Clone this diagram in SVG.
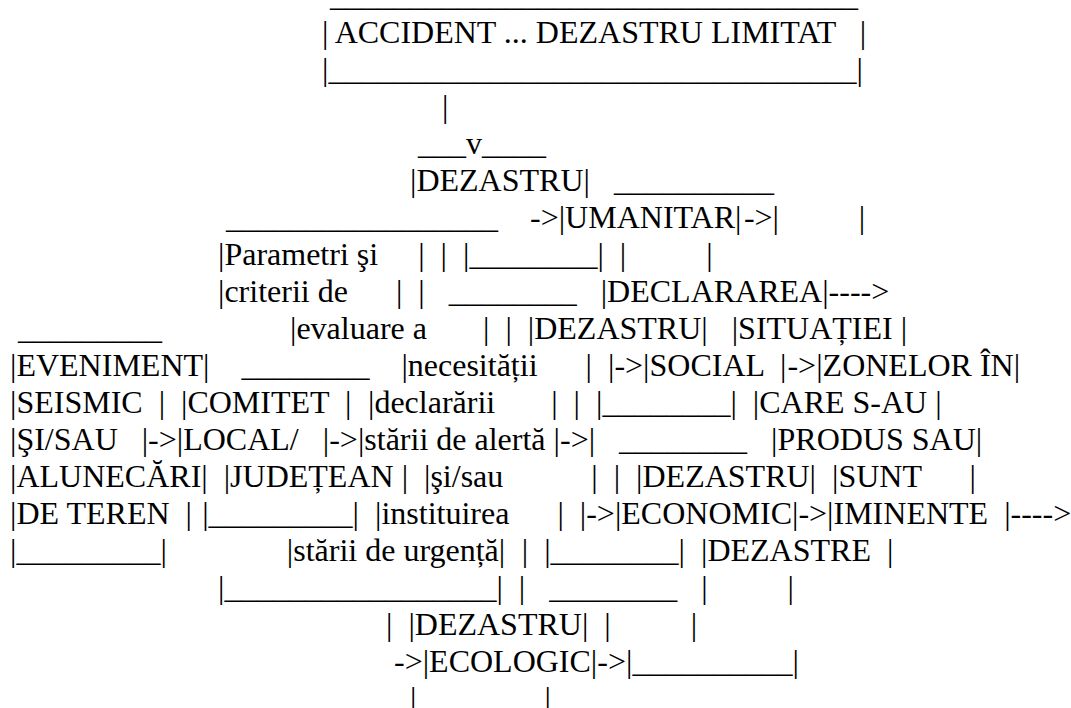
<svg xmlns="http://www.w3.org/2000/svg" width="1071" height="708" viewBox="0 0 1071 708" xml:space="preserve">
<style>
text{font-family:"Liberation Serif","Times New Roman",serif;font-size:32px;fill:#000;white-space:pre}
</style>
<rect width="1071" height="708" fill="#fff"/>
<g id="node-accident">
<text x="330" y="6.3">_________________________________</text>
<text x="322" y="43.3">| ACCIDENT ... DEZASTRU LIMITAT   |</text>
<text x="322" y="80.3">|_________________________________|</text>
</g>
<g id="node-dezastru">
<text x="418" y="154.3">___v____</text>
<text x="410" y="191.3">|DEZASTRU|</text>
</g>
<g id="node-umanitar">
<text x="614" y="191.3">__________</text>
<text x="558.7" y="228.3">|UMANITAR|</text>
<text x="463" y="265.3">|________|</text>
</g>
<g id="node-parametri">
<text x="226" y="228.3">_________________</text>
<text x="218" y="265.3">|Parametri şi</text>
<text x="418.2" y="265.3">|</text>
<text x="218" y="302.3">|criterii de</text>
<text x="395.9" y="302.3">|</text>
<text x="290" y="339.3">|evaluare a</text>
<text x="483" y="339.3">|</text>
<text x="401.4" y="376.3">|necesității</text>
<text x="585.6" y="376.3">|</text>
<text x="368" y="413.3">|declarării</text>
<text x="551.2" y="413.3">|</text>
<text x="357.9" y="450.3">|stării de alertă |</text>
<text x="424" y="487.3">|şi/sau</text>
<text x="591.3" y="487.3">|</text>
<text x="375" y="524.3">|instituirea</text>
<text x="557.4" y="524.3">|</text>
<text x="286.8" y="561.3">|stării de urgență|</text>
<text x="218" y="598.3">|_________________|</text>
</g>
<g id="node-eveniment">
<text x="18" y="339.3">_________</text>
<text x="10" y="376.3">|EVENIMENT|</text>
<text x="10" y="413.3">|SEISMIC  |</text>
<text x="10" y="450.3">|ŞI/SAU   |</text>
<text x="10" y="487.3">|ALUNECĂRI|</text>
<text x="10" y="524.3">|DE TEREN  |</text>
<text x="10" y="561.3">|_________|</text>
</g>
<g id="node-comitet">
<text x="241.4" y="376.3">________</text>
<text x="181" y="413.3">|COMITET  |</text>
<text x="176.8" y="450.3">|LOCAL/   |</text>
<text x="223.7" y="487.3">|JUDEȚEAN |</text>
<text x="202.2" y="524.3">|_________|</text>
</g>
<g id="node-social">
<text x="448.7" y="302.3">________</text>
<text x="527.8" y="339.3">|DEZASTRU|</text>
<text x="643.1" y="376.3">|SOCIAL  |</text>
<text x="596" y="413.3">|________|</text>
</g>
<g id="node-economic">
<text x="619.1" y="450.3">________</text>
<text x="636.1" y="487.3">|DEZASTRU|</text>
<text x="614.9" y="524.3">|ECONOMIC|</text>
<text x="544.2" y="561.3">|________|</text>
</g>
<g id="node-ecologic">
<text x="549.2" y="598.3">________</text>
<text x="408.4" y="635.3">|DEZASTRU|</text>
<text x="422.7" y="672.3">|ECOLOGIC|</text>
</g>
<g id="node-declarare">
<text x="772.6" y="228.3">|</text>
<text x="858.8" y="228.3">|</text>
<text x="706.2" y="265.3">|</text>
<text x="600.7" y="302.3">|DECLARAREA|</text>
<text x="731.7" y="339.3">|SITUAȚIEI |</text>
<text x="816.2" y="376.3">|ZONELOR ÎN|</text>
<text x="752.8" y="413.3">|CARE S-AU |</text>
<text x="771.1" y="450.3">|PRODUS SAU|</text>
<text x="832" y="487.3">|SUNT      |</text>
<text x="827.1" y="524.3">|IMINENTE  |</text>
<text x="701" y="561.3">|DEZASTRE  |</text>
</g>
<g id="connectors">
<text x="442" y="117.3">|</text>
<text x="530" y="228.3">-&gt;</text>
<text x="743.9" y="228.3">-&gt;</text>
<text x="440.6" y="265.3">|</text>
<text x="619.8" y="265.3">|</text>
<text x="418.3" y="302.3">|</text>
<text x="828.6" y="302.3">----&gt;</text>
<text x="505.4" y="339.3">|</text>
<text x="608" y="376.3">|-&gt;</text>
<text x="787.45" y="376.3">-&gt;</text>
<text x="573.6" y="413.3">|</text>
<text x="148.1" y="450.3">-&gt;</text>
<text x="329.2" y="450.3">-&gt;</text>
<text x="560" y="450.3">-&gt;|</text>
<text x="613.7" y="487.3">|</text>
<text x="579.8" y="524.3">|-&gt;</text>
<text x="798.4" y="524.3">-&gt;</text>
<text x="1010.5" y="524.3">----&gt;</text>
<text x="521.8" y="561.3">|</text>
<text x="518.8" y="598.3">|</text>
<text x="701.2" y="598.3">|</text>
<text x="787.6" y="598.3">|</text>
<text x="386" y="635.3">|</text>
<text x="604.3" y="635.3">|</text>
<text x="690.7" y="635.3">|</text>
<text x="394" y="672.3">-&gt;</text>
<text x="597.3" y="672.3">-&gt;|__________|</text>
<text x="410" y="709.3">|</text>
<text x="544.4" y="709.3">|</text>
</g>
</svg>
